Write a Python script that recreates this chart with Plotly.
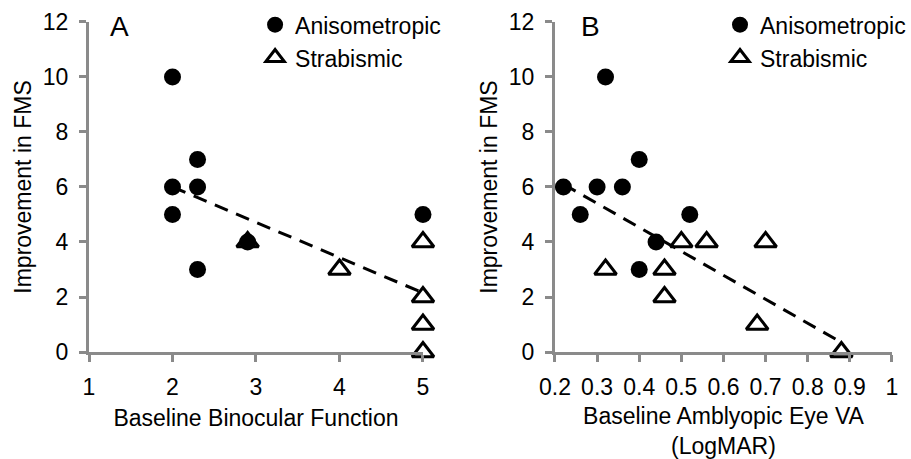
import plotly.graph_objects as go

# ---- data ----
a_aniso_x = [2, 2, 2, 2.3, 2.3, 2.3, 2.9, 5]
a_aniso_y = [10, 6, 5, 7, 6, 3, 4, 5]
a_strab_x = [2.9, 4, 5, 5, 5, 5]
a_strab_y = [4, 3, 4, 2, 1, 0]
a_trend_x = [2, 5]
a_trend_y = [6.0, 2.15]

b_aniso_x = [0.22, 0.26, 0.30, 0.32, 0.36, 0.40, 0.40, 0.44, 0.52]
b_aniso_y = [6, 5, 6, 10, 6, 7, 3, 4, 5]
b_strab_x = [0.32, 0.46, 0.46, 0.50, 0.56, 0.68, 0.70, 0.88]
b_strab_y = [3, 3, 2, 4, 4, 1, 4, 0]
b_trend_x = [0.22, 0.88]
b_trend_y = [6.1, 0.35]

y_ticks = [0, 2, 4, 6, 8, 10, 12]
a_x_ticks = [1, 2, 3, 4, 5]
b_x_ticks = [0.2, 0.3, 0.4, 0.5, 0.6, 0.7, 0.8, 0.9, 1.0]
b_x_ticktext = ["0.2", "0.3", "0.4", "0.5", "0.6", "0.7", "0.8", "0.9", "1"]

FONT = "Arial, Liberation Sans, sans-serif"
AX = "#8a8a8a"

fig = go.Figure()

circle = dict(symbol="circle", size=17, color="black", line=dict(width=0))
tri = dict(symbol="triangle-up", size=19, color="white", line=dict(color="black", width=3))

def add_panel(xs, ys, xt, yt, xa, ya, leg):
    fig.add_trace(go.Scatter(x=xs[1], y=ys[1], mode="markers", marker=tri, name="Strabismic",
                             xaxis=xa, yaxis=ya, cliponaxis=False, legend=leg,
                             legendgroup=leg + "s", legendrank=2))
    fig.add_trace(go.Scatter(x=xs[0], y=ys[0], mode="markers", marker=circle, name="Anisometropic",
                             xaxis=xa, yaxis=ya, cliponaxis=False, legend=leg,
                             legendgroup=leg + "a", legendrank=1))
    fig.add_trace(go.Scatter(x=xt, y=yt, mode="lines", showlegend=False,
                             line=dict(color="black", width=3, dash="14px,9px"),
                             xaxis=xa, yaxis=ya, cliponaxis=False))

add_panel([a_aniso_x, a_strab_x], [a_aniso_y, a_strab_y], a_trend_x, a_trend_y, "x", "y", "legend")
add_panel([b_aniso_x, b_strab_x], [b_aniso_y, b_strab_y], b_trend_x, b_trend_y, "x2", "y2", "legend2")

axis_common = dict(showline=True, linecolor=AX, linewidth=3, ticks="outside", tickcolor=AX,
                   tickwidth=3, ticklen=7, showgrid=False, zeroline=False, automargin=False,
                   tickfont=dict(family=FONT, size=23, color="black"),
                   title_font=dict(family=FONT, size=23, color="black"))

ydom = [0.2331, 0.9521]
fig.update_layout(
    width=911, height=459, margin=dict(l=0, r=0, t=0, b=0, autoexpand=False),
    paper_bgcolor="white", plot_bgcolor="white",
    font=dict(family=FONT, size=23, color="black"),
    xaxis=dict(domain=[0.0977, 0.4643], range=[1, 5], tickvals=a_x_ticks,
               ticklabelstandoff=5,
               title=dict(text="Baseline Binocular Function", standoff=12), anchor="y", **axis_common),
    yaxis=dict(domain=ydom, range=[0, 12], tickvals=y_ticks,
               title=dict(text="Improvement in FMS", standoff=5), anchor="x",
               ticklabelstandoff=6, **axis_common),
    xaxis2=dict(domain=[0.6092, 0.9791], range=[0.2, 1.0], tickvals=b_x_ticks, ticktext=b_x_ticktext,
                ticklabelstandoff=5,
                title=dict(text="Baseline Amblyopic Eye VA<br>(LogMAR)", standoff=17), anchor="y2",
                **axis_common),
    yaxis2=dict(domain=ydom, range=[0, 12], tickvals=y_ticks,
                title=dict(text="Improvement in FMS", standoff=5), anchor="x2",
                ticklabelstandoff=6, **axis_common),
    legend=dict(x=0.28, y=0.993, xanchor="left", yanchor="top", bgcolor="rgba(0,0,0,0)",
                font=dict(family=FONT, size=23, color="black"), tracegroupgap=12,
                traceorder="normal", itemwidth=30),
    legend2=dict(x=1.0, y=0.993, xanchor="right", yanchor="top", bgcolor="rgba(0,0,0,0)",
                 font=dict(family=FONT, size=23, color="black"), tracegroupgap=12,
                 traceorder="normal", itemwidth=30),
    showlegend=True,
    annotations=[
        dict(text="A", xref="x domain", yref="y domain", x=0.057, y=0.985, xanchor="left",
             yanchor="middle", showarrow=False, font=dict(family=FONT, size=28, color="black")),
        dict(text="B", xref="x2 domain", yref="y2 domain", x=0.071, y=0.985, xanchor="left",
             yanchor="middle", showarrow=False, font=dict(family=FONT, size=28, color="black")),
    ],
)

fig.write_html("out.html", config={"displayModeBar": False},
               post_script="document.body.style.margin='0';document.body.style.overflow='hidden';")
